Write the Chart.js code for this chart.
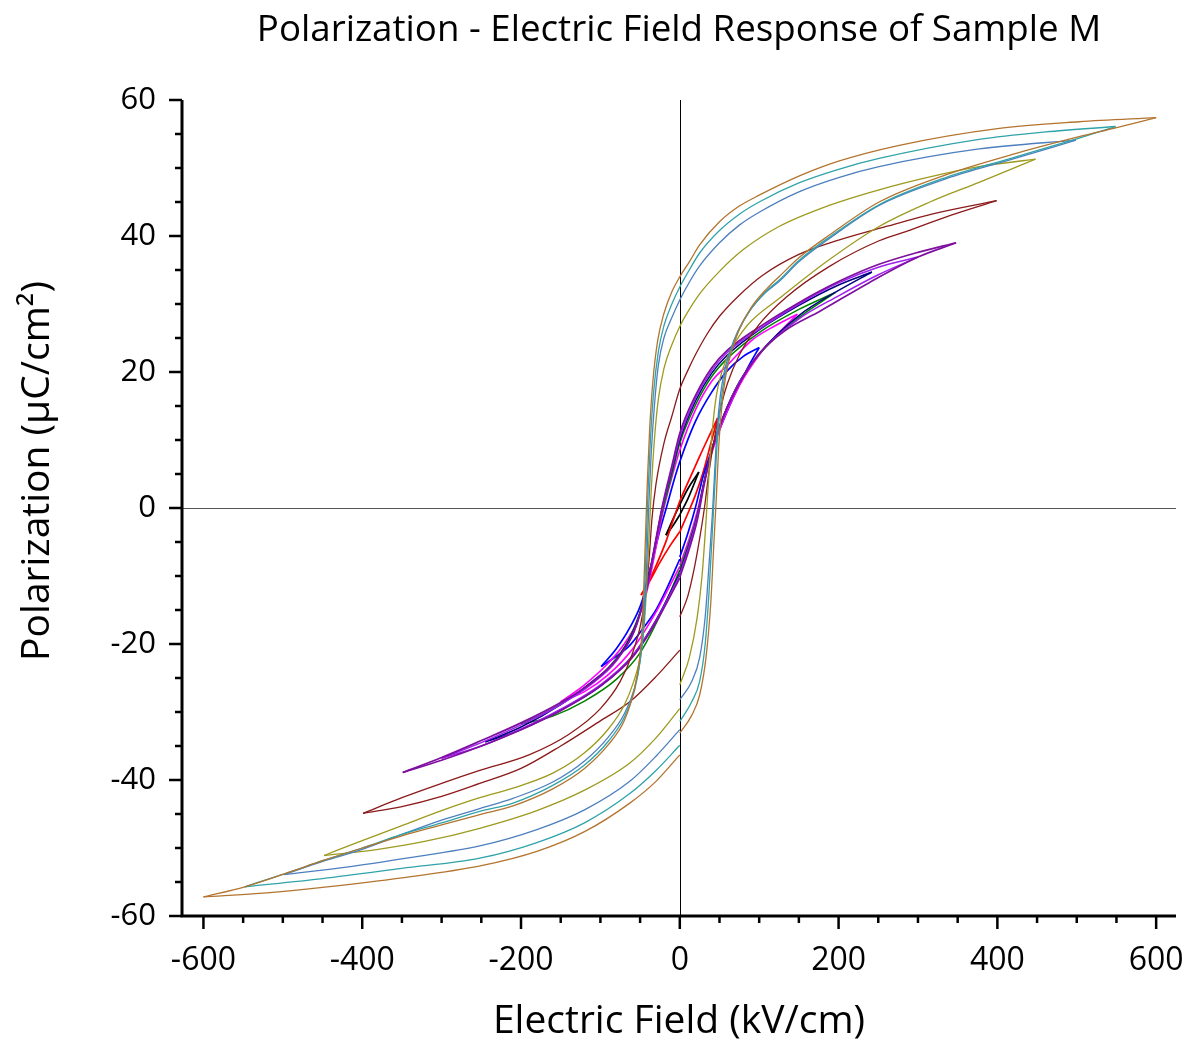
<!DOCTYPE html>
<html>
<head>
<meta charset="utf-8">
<script src="https://cdn.jsdelivr.net/npm/chart.js@4.4.0/dist/chart.umd.min.js"></script>
<style>
  html, body { margin: 0; padding: 0; background: #fff; }
  #wrap { width: 1198px; height: 1045px; }
</style>
</head>
<body>
<div id="wrap"><canvas id="peChart" width="1198" height="1045"></canvas></div>
<script>
const xTickLabels = [-600, -400, -200, 0, 200, 400, 600];
const yTickLabels = [-60, -40, -20, 0, 20, 40, 60];

// Each loop: rise = lower branch 0 -> +Emax, fall = upper branch (listed low E to high E),
// ret = lower branch -Emax -> 0. Points are [E (kV/cm), P (uC/cm2)].

// 600 kV/cm
const brownRise = [[0,-33.1],[15,-30.5],[25,-27.5],[33,-22],[39,-14],[43,-5],[46,1.5],[49,9],[53,15],[58,19.5],[65,23],[75,26.3],[90,29.5],[110,32.3],[125,34],[150,36.8],[188,40.1],[251,45],[335,49],[419,52],[503,54.6],[549,55.9],[600,57.4]];
const brownFall = [[-600,-57.2],[-548,-55.7],[-498,-53.8],[-448,-51.8],[-400,-50],[-350,-48.2],[-300,-46.6],[-252,-45.1],[-210,-43.8],[-160,-41.3],[-120,-38.3],[-90,-34.8],[-70,-31.3],[-58,-27],[-51,-22.5],[-47,-17],[-45,-10.5],[-43,-3.5],[-41,3.5],[-38,11.5],[-34,18.5],[-28,24.5],[-20,28.6],[-10,31.8],[0,34],[12,36.2],[25,38.7],[50,42.1],[75,44.4],[100,46],[150,48.8],[200,51],[275,53.3],[400,55.8],[503,56.8],[600,57.4]];
const brownRet = [[-600,-57.2],[-520,-56.6],[-450,-55.8],[-350,-54.4],[-250,-52.6],[-180,-50.5],[-120,-47.6],[-63,-43.4],[-30,-40.2],[0,-36.3]];

// 550 kV/cm
const tealRise = [[0,-31.4],[15,-28.5],[25,-25.5],[32,-20],[37,-12],[41,-3.5],[44,3],[47,9.5],[51,14.8],[56,19],[63,22.5],[73,25.8],[88,29],[108,31.8],[125,33.5],[150,36.4],[188,39.8],[251,44.6],[335,48.6],[419,51.5],[500,54.3],[549,56.1]];
const tealFall = [[-548,-55.7],[-498,-53.8],[-448,-51.8],[-400,-50],[-350,-48],[-300,-46.3],[-252,-44.6],[-210,-43.4],[-160,-40.8],[-120,-37.8],[-90,-34.3],[-70,-30.8],[-57,-26.8],[-50,-22.5],[-46,-17.5],[-44,-11],[-42,-4.5],[-40,2.5],[-37,10],[-33,17],[-27,23],[-20,26.8],[-10,30],[0,32.5],[12,35],[25,37.5],[50,40.8],[75,43.2],[100,45],[150,47.8],[200,49.8],[251,51.4],[377,54.2],[461,55.3],[549,56.1]];
const tealRet = [[-548,-55.7],[-450,-54.5],[-350,-53],[-252,-51.5],[-180,-49.2],[-120,-46.3],[-63,-42],[-30,-38.6],[0,-34.9]];

// 500 kV/cm
const steelRise = [[0,-28.2],[15,-25.5],[25,-22],[32,-16],[37,-8],[41,-1],[44,5.5],[47,11.5],[51,16.5],[56,20],[63,23],[73,26],[88,29],[108,31.7],[125,33.3],[150,36.2],[188,39.6],[251,44.5],[335,48.4],[419,51.3],[499,54.1]];
const steelFall = [[-498,-53.9],[-448,-51.9],[-400,-50.2],[-350,-48],[-300,-45.9],[-252,-44.2],[-210,-42.7],[-160,-40.3],[-120,-37.2],[-90,-33.7],[-70,-30.3],[-57,-26.5],[-50,-22.5],[-46,-18],[-43,-12.5],[-41,-6],[-39,0.5],[-36,8],[-32,15],[-27,21],[-20,25],[-10,28],[0,30.6],[12,33.2],[25,35.6],[50,39],[75,41.6],[100,43.5],[150,46.5],[200,48.6],[251,50.2],[377,52.8],[499,54.1]];
const steelRet = [[-498,-53.9],[-420,-52.8],[-340,-51.4],[-252,-49.7],[-180,-47.3],[-120,-44.4],[-63,-40.2],[-30,-36.5],[0,-32.6]];

// 450 kV/cm
const oliveRise = [[0,-26],[12,-22],[22,-16],[28,-10],[33,-2],[37,5.5],[41,11.5],[46,16.5],[53,20],[62,22.8],[75,25.3],[90,27.5],[125,30.8],[188,36.5],[251,41.4],[315,45],[377,47.9],[448,51.3]];
const oliveFall = [[-448,-51.1],[-400,-48.9],[-350,-46.7],[-300,-44.5],[-252,-42.6],[-210,-41.2],[-160,-39],[-120,-36],[-90,-32.5],[-70,-29],[-58,-25.5],[-50,-22],[-45,-17.5],[-42,-12],[-39,-5],[-36,2.5],[-32,10],[-27,16],[-20,20.5],[-10,24],[0,26.7],[12,29.2],[25,31.5],[50,34.8],[80,38],[125,41.4],[188,44.5],[251,46.8],[315,48.7],[377,50.2],[448,51.3]];
const oliveRet = [[-448,-51.1],[-380,-50.2],[-320,-49],[-252,-47.1],[-180,-44.5],[-120,-41.5],[-63,-37.5],[-30,-33.8],[0,-29.5]];

// 400 kV/cm
const maroonRise = [[0,-16],[10,-13],[18,-9],[25,-4.5],[31,0],[37,5.5],[44,10.5],[52,15],[60,18.3],[75,22.5],[100,27],[134,31],[188,35.5],[251,39.3],[291,40.9],[340,43],[399,45.2]];
const maroonFall = [[-399,-44.9],[-350,-42.6],[-300,-40.5],[-252,-38.6],[-190,-36.3],[-140,-33.3],[-100,-29.5],[-75,-25.5],[-60,-21.5],[-50,-17.5],[-44,-13.5],[-39,-8],[-35,-1.5],[-30,3.5],[-20,9.5],[-10,13.5],[0,17.5],[10,20.2],[20,22.6],[35,25.7],[50,28.2],[75,31.3],[104,34.2],[150,37.3],[200,39.4],[260,41.4],[320,43.3],[399,45.2]];
const maroonRet = [[-399,-44.9],[-350,-43.9],[-300,-42.4],[-252,-40.5],[-200,-38.3],[-150,-35],[-100,-31.3],[-63,-28.5],[-30,-24.8],[0,-20.9]];

// 350 kV/cm
const purpleRise = [[0,-10.2],[12,-6],[22,-1.8],[30,3],[40,8.3],[55,13.5],[75,18.3],[100,22.7],[134,26.2],[176,28.9],[238,33.1],[300,36.9],[348,39]];
const purpleFall = [[-349,-38.9],[-300,-36.7],[-250,-34.2],[-200,-31.6],[-150,-28.6],[-110,-25.6],[-80,-22.3],[-58,-18.3],[-43,-12.5],[-32,-5.8],[-22,0.3],[-10,6.2],[0,11],[20,16.6],[40,20.6],[60,23.2],[100,26.6],[150,30.2],[200,33.3],[250,35.8],[300,37.6],[348,39]];
const purpleRet = [[-349,-38.9],[-300,-37.1],[-250,-35],[-200,-32.6],[-150,-29.8],[-100,-26.2],[-60,-22],[-30,-16.8],[0,-10.3]];

// 300 kV/cm
const violetRise = [[0,-9.8],[12,-5.5],[22,-1.3],[30,3.3],[40,8.4],[55,13.5],[75,18.5],[100,22.7],[150,27.8],[200,31.2],[250,34.3],[300,36.9]];
const violetFall = [[-300,-36.8],[-250,-34.5],[-200,-31.9],[-150,-28.9],[-110,-25.8],[-80,-22.5],[-58,-18.2],[-43,-12.5],[-32,-6],[-22,0],[-10,5.8],[0,10.4],[20,16.2],[40,20.2],[60,22.9],[100,26.3],[150,30],[200,33.1],[250,35.4],[300,36.9]];
const violetRet = [[-300,-36.8],[-250,-35],[-200,-32.5],[-150,-29.6],[-100,-26],[-60,-21.8],[-30,-16.6],[0,-9.9]];

// 250 kV/cm
const navyRise = [[0,-9.5],[12,-5.3],[22,-1.2],[30,3.5],[40,8.5],[55,13.5],[75,18.5],[100,22.7],[150,28.3],[200,32],[242,34.7]];
const navyFall = [[-245,-34.4],[-200,-32.2],[-150,-28.9],[-110,-25.5],[-80,-22.3],[-58,-18],[-43,-12.5],[-32,-6],[-22,0],[-10,5.5],[0,10],[20,15.8],[40,19.8],[60,22.5],[100,26.2],[150,29.8],[200,32.8],[242,34.7]];
const navyRet = [[-245,-34.4],[-200,-32.6],[-150,-29.7],[-100,-26.2],[-60,-21.8],[-30,-16.5],[0,-9.6]];

// 200 kV/cm
const greenRise = [[0,-9],[12,-5],[22,-1],[30,3.5],[40,8.5],[55,13.5],[75,18.5],[100,22.6],[150,28],[196,31.7]];
const greenFall = [[-200,-31.8],[-160,-29.5],[-120,-26.6],[-90,-23.5],[-65,-19.5],[-48,-14.5],[-36,-8.5],[-25,-2],[-12,4],[0,9.5],[20,15.2],[40,19.3],[60,22],[100,25.8],[150,29.2],[196,31.7]];
const greenRet = [[-200,-31.8],[-160,-30.6],[-120,-28.4],[-80,-25.2],[-50,-21.3],[-25,-15.8],[0,-9.1]];

// 150 kV/cm
const magentaRise = [[0,-8.4],[12,-4.5],[22,-0.5],[30,3.5],[40,8],[55,13],[75,18],[100,22.5],[125,25.8],[148,28.5]];
const magentaFall = [[-150,-28.5],[-120,-26],[-90,-22.8],[-70,-20],[-55,-17],[-42,-12.5],[-32,-7],[-22,-1],[-10,4.5],[0,8.5],[20,14.5],[40,18.6],[60,21],[91,24.7],[120,26.8],[148,28.5]];
const magentaRet = [[-150,-28.5],[-120,-27],[-90,-24.5],[-60,-20.8],[-30,-15.3],[-15,-12],[0,-8.6]];

// 100 kV/cm
const blueRise = [[0,-7.2],[10,-3.8],[20,0.2],[29,4.5],[45,10],[66,15.9],[85,20.5],[100,23.6]];
const blueFall = [[-99,-23.3],[-80,-20.7],[-63,-17.6],[-47,-13.5],[-41,-10.5],[-33,-7],[-26,-3.7],[-17,0],[-8,3.8],[0,6.8],[20,12.8],[40,17],[60,20.2],[80,22.3],[100,23.6]];
const blueRet = [[-99,-23.3],[-80,-21.8],[-63,-20.2],[-45,-17.5],[-30,-15],[-15,-11.5],[0,-7.5]];

// 50 kV/cm
const redRise = [[0,-3.5],[12,-0.3],[20,2],[29,5.1],[38,9],[47.6,13.2]];
const redFall = [[-48.8,-12.8],[-40,-11],[-30,-8.5],[-17,-4.8],[-9,-2],[0,1],[12,4.2],[25,7.6],[37,10.6],[47.6,13.2]];
const redRet = [[-48.8,-12.8],[-40,-11.2],[-25,-8],[-12,-5.5],[0,-3.5]];

// 25 kV/cm
const blackRise = [[0,-1],[10,1.3],[24,5.3]];
const blackFall = [[-17.5,-4],[-10,-2],[0,0.5],[10,2.8],[24,5.3]];
const blackRet = [[-17.5,-4],[-8,-2.5],[0,-1]];

const loops = [
  { color: '#b3742f', width: 1.3, parts: [brownRise, brownFall, brownRet] },
  { color: '#2fa3a8', width: 1.3, parts: [tealRise, tealFall, tealRet] },
  { color: '#4d7fbf', width: 1.3, parts: [steelRise, steelFall, steelRet] },
  { color: '#9d9a1e', width: 1.3, parts: [oliveRise, oliveFall, oliveRet] },
  { color: '#8b1a1a', width: 1.3, parts: [maroonRise, maroonFall, maroonRet] },
  { color: '#7f0f9e', width: 1.7, parts: [purpleRise, purpleFall, purpleRet] },
  { color: '#a020f0', width: 1.5, parts: [violetRise, violetFall, violetRet] },
  { color: '#000080', width: 1.5, parts: [navyRise, navyFall, navyRet] },
  { color: '#008000', width: 1.5, parts: [greenRise, greenFall, greenRet] },
  { color: '#ff00ff', width: 1.6, parts: [magentaRise, magentaFall, magentaRet] },
  { color: '#0000ff', width: 1.7, parts: [blueRise, blueFall, blueRet] },
  { color: '#ff0000', width: 1.7, parts: [redRise, redFall, redRet] },
  { color: '#000000', width: 1.7, parts: [blackRise, blackFall, blackRet] }
];

const datasets = [];
loops.forEach(loop => {
  loop.parts.forEach(part => {
    datasets.push({
      data: part.map(p => ({ x: p[0], y: p[1] })),
      showLine: true,
      borderColor: loop.color,
      borderWidth: loop.width,
      pointRadius: 0,
      cubicInterpolationMode: 'monotone',
      fill: false
    });
  });
});

const fontFamily = '"Open Sans", "Noto Sans", sans-serif';

// axes, ticks, zero lines and titles
const peAxes = {
  id: 'peAxes',
  beforeDatasetsDraw(chart) {
    const { ctx, chartArea: a, scales: { x, y } } = chart;
    ctx.save();
    ctx.lineWidth = 1;
    ctx.strokeStyle = '#555';
    const y0 = Math.round(y.getPixelForValue(0)) + 0.5;
    ctx.beginPath(); ctx.moveTo(a.left, y0); ctx.lineTo(a.right, y0); ctx.stroke();
    ctx.strokeStyle = '#000';
    const x0 = Math.round(x.getPixelForValue(0)) + 0.5;
    ctx.beginPath(); ctx.moveTo(x0, a.top); ctx.lineTo(x0, a.bottom); ctx.stroke();
    ctx.restore();
  },
  afterDraw(chart) {
    const { ctx, chartArea: a, scales: { x, y } } = chart;
    ctx.save();
    ctx.strokeStyle = '#000';
    ctx.fillStyle = '#000';

    // axis lines
    ctx.lineWidth = 3;
    ctx.beginPath();
    ctx.moveTo(a.left, a.top);
    ctx.lineTo(a.left, a.bottom);
    ctx.lineTo(a.right, a.bottom);
    ctx.stroke();

    // y ticks every 5, labels every 20
    ctx.lineWidth = 2.5;
    for (let v = -60; v <= 60; v += 5) {
      const py = y.getPixelForValue(v);
      const len = v % 20 === 0 ? 13 : 7;
      ctx.beginPath(); ctx.moveTo(a.left, py); ctx.lineTo(a.left - len, py); ctx.stroke();
    }
    // x ticks every 50, labels every 200
    for (let v = -600; v <= 600; v += 50) {
      const px = x.getPixelForValue(v);
      const len = v % 200 === 0 ? 13 : 7;
      ctx.beginPath(); ctx.moveTo(px, a.bottom); ctx.lineTo(px, a.bottom + len); ctx.stroke();
    }

    ctx.font = '31px ' + fontFamily;
    ctx.textAlign = 'right';
    ctx.textBaseline = 'middle';
    yTickLabels.forEach(v => ctx.fillText(String(v), a.left - 26, y.getPixelForValue(v)));
    ctx.textAlign = 'center';
    ctx.font = '32px ' + fontFamily;
    xTickLabels.forEach(v => ctx.fillText(String(v), x.getPixelForValue(v), a.bottom + 45));

    // titles
    const cx = (a.left + a.right) / 2;
    ctx.font = '36.7px ' + fontFamily;
    ctx.fillText('Polarization - Electric Field Response of Sample M', cx, 31);
    ctx.font = '39px ' + fontFamily;
    ctx.fillText('Electric Field (kV/cm)', cx, 1022);
    ctx.translate(38, 471);
    ctx.rotate(-Math.PI / 2);
    ctx.fillText('Polarization (\u03bcC/cm\u00b2)', 0, 0);
    ctx.restore();
  }
};

new Chart(document.getElementById('peChart').getContext('2d'), {
  type: 'scatter',
  data: { datasets: datasets },
  options: {
    responsive: false,
    animation: false,
    layout: { padding: { left: 182, top: 100, right: 22, bottom: 129 } },
    scales: {
      x: { type: 'linear', min: -627, max: 625, display: false },
      y: { type: 'linear', min: -60, max: 60, display: false }
    },
    plugins: {
      legend: { display: false },
      tooltip: { enabled: false },
      title: { display: false }
    }
  },
  plugins: [peAxes]
});
</script>
</body>
</html>
